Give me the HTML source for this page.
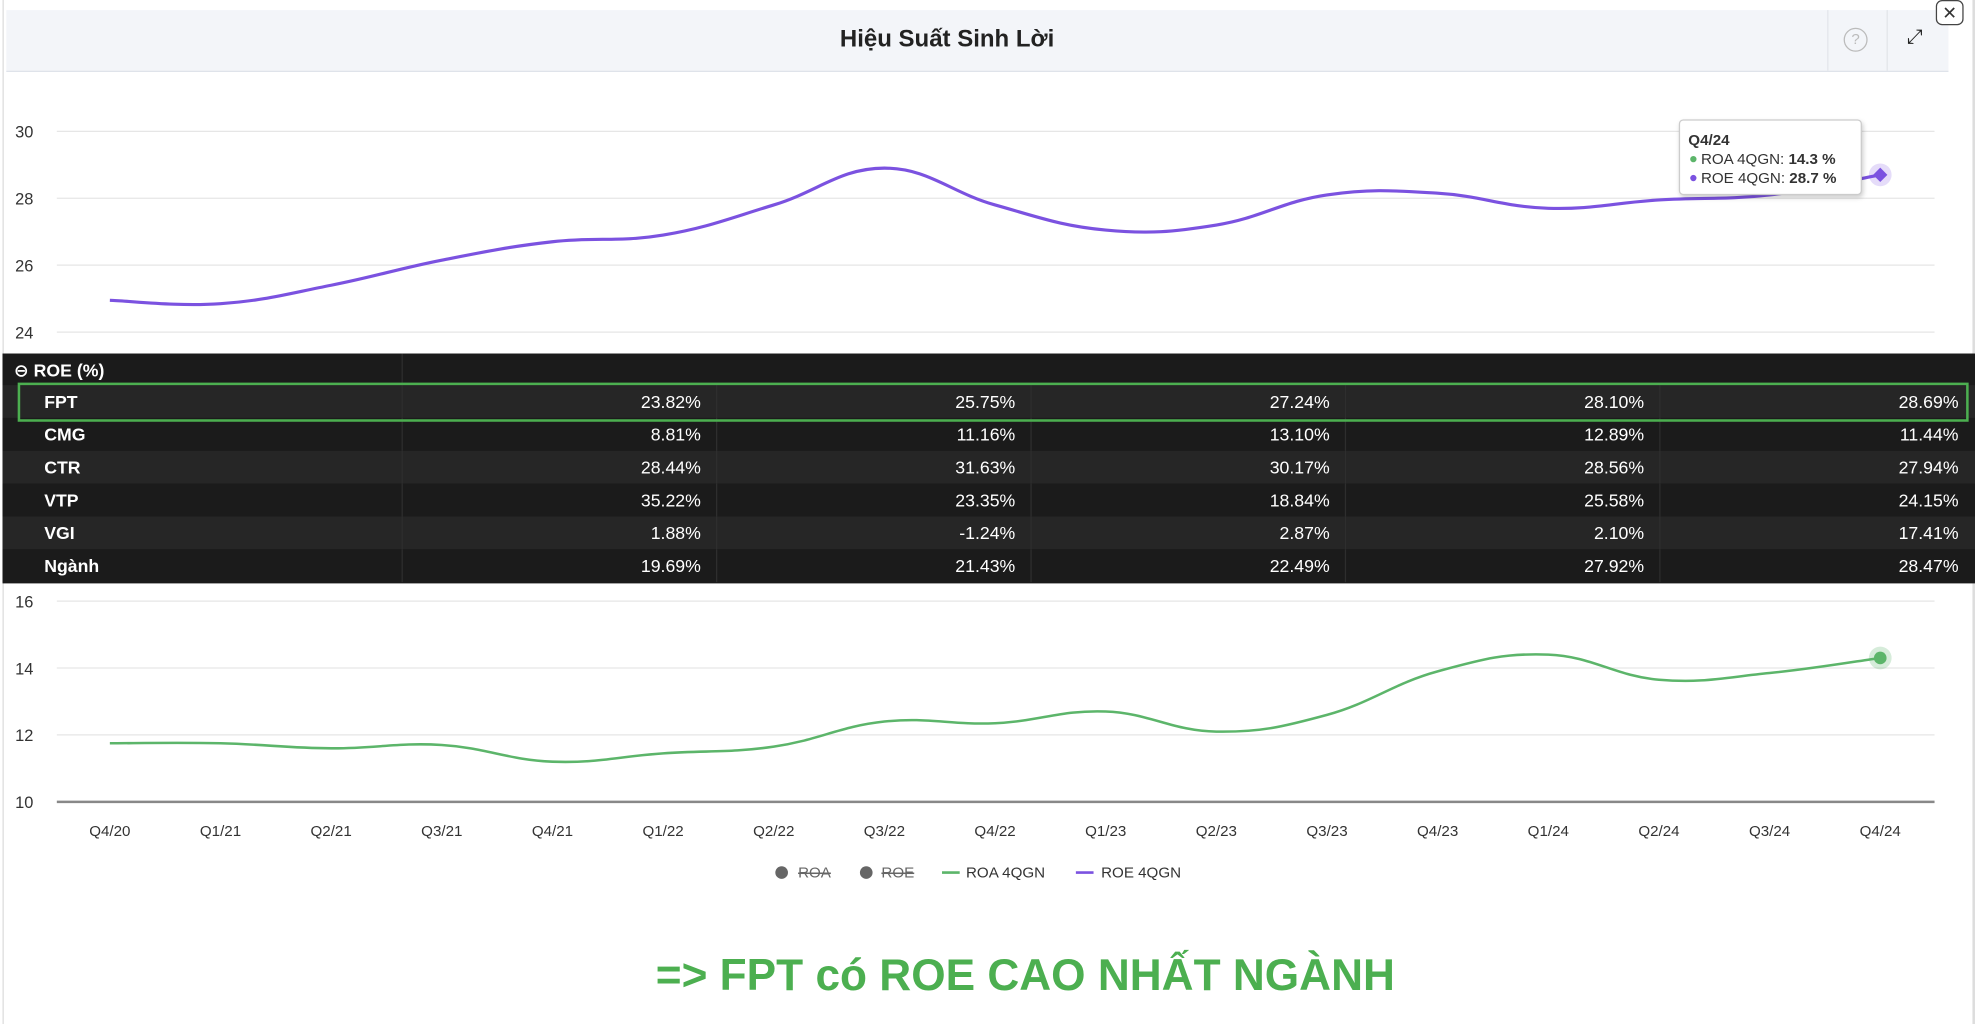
<!DOCTYPE html>
<html><head><meta charset="utf-8"><style>
html,body{margin:0;padding:0;background:#fff;width:1980px;height:1024px;overflow:hidden}
#wrap{position:absolute;left:0;top:0;width:1568px;height:811px;transform:scale(1.26276);transform-origin:0 0;font-family:"Liberation Sans","DejaVu Sans",sans-serif}
.abs{position:absolute}
#table{position:absolute;left:2px;top:280px;width:1562px;height:182px;background:#1b1b1b}
.row{position:absolute;left:0;width:1562px;height:26px;color:#fff;font-size:14px}
.row .n{position:absolute;left:33px;top:5px;font-weight:bold}
.row .v{position:absolute;top:5px;text-align:right;width:200px}
.sep{position:absolute;top:0;width:1px;height:26px;background:#2e2e2e}
</style></head><body>
<div id="wrap">
<div class="abs" style="left:2px;top:0;width:1562px;height:811px;border-left:1px solid #ddd;border-right:2px solid #ddd;box-sizing:border-box"></div>
<div class="abs" style="left:5px;top:8px;width:1538px;height:48px;background:#f3f5f9;border-bottom:1px solid #dfe3ea"></div>
<div class="abs" style="left:500px;width:500px;top:21px;text-align:center;font-size:19px;font-weight:bold;color:#222">Hiệu Suất Sinh Lời</div>
<div class="abs" style="left:1447px;top:8px;width:1px;height:48px;background:#e2e5ea"></div>
<div class="abs" style="left:1494px;top:8px;width:1px;height:48px;background:#e2e5ea"></div>
<div class="abs" style="left:1460px;top:22px;width:17px;height:17px;border:1.5px solid #bbb;border-radius:50%;color:#bbb;font-size:12px;text-align:center;line-height:17px">?</div>
<div class="abs" style="left:1510px;top:21px;font-size:16px;color:#222">⤢</div>
<div class="abs" style="left:1533px;top:0;width:20px;height:18px;border:1.5px solid #444;border-radius:5px;text-align:center;font-size:14px;line-height:18px;color:#333;background:#fff">✕</div>

<svg class="abs" style="left:0;top:0" width="1568" height="811" id="svg"></svg>

<div id="table"></div>

<div class="abs" style="left:300px;width:1024px;top:753px;text-align:center;font-size:35px;font-weight:bold;color:#4caf50">=&gt; FPT có ROE CAO NHẤT NGÀNH</div>
</div>
<script>
const categories=["Q4/20","Q1/21","Q2/21","Q3/21","Q4/21","Q1/22","Q2/22","Q3/22","Q4/22","Q1/23","Q2/23","Q3/23","Q4/23","Q1/24","Q2/24","Q3/24","Q4/24"];
const roe4q=[24.95,24.85,25.4,26.15,26.7,26.9,27.8,28.9,27.8,27.05,27.2,28.1,28.15,27.7,27.95,28.1,28.7];
const roa4q=[11.75,11.75,11.6,11.7,11.2,11.45,11.65,12.4,12.35,12.7,12.1,12.6,13.9,14.4,13.65,13.85,14.3];
const roeTicks=[24,26,28,30];
const roaTicks=[10,12,14,16];
const tableRows=["FPT","CMG","CTR","VTP","VGI","Ngành"];
const tableFPT=["23.82%","25.75%","27.24%","28.10%","28.69%"];
const tableCMG=["8.81%","11.16%","13.10%","12.89%","11.44%"];
const tableCTR=["28.44%","31.63%","30.17%","28.56%","27.94%"];
const tableVTP=["35.22%","23.35%","18.84%","25.58%","24.15%"];
const tableVGI=["1.88%","-1.24%","2.87%","2.10%","17.41%"];
const tableNganh=["19.69%","21.43%","22.49%","27.92%","28.47%"];

const NS="http://www.w3.org/2000/svg";
const svg=document.getElementById('svg');
function mk(t,a,p){const e=document.createElementNS(NS,t);for(const k in a)e.setAttribute(k,a[k]);(p||svg).appendChild(e);return e;}
const x=i=>87+i*(1489-87)/(categories.length-1);
const yTop=v=>263-(v-24)*(263-104)/6;
const yBot=v=>635-(v-10)*(635-476)/6;
function spline(pts){let d=`M${pts[0][0]},${pts[0][1]}`;for(let i=0;i<pts.length-1;i++){const p0=pts[i-1]||pts[i],p1=pts[i],p2=pts[i+1],p3=pts[i+2]||p2;const t=0.2;d+=` C${p1[0]+(p2[0]-p0[0])*t},${p1[1]+(p2[1]-p0[1])*t} ${p2[0]-(p3[0]-p1[0])*t},${p2[1]-(p3[1]-p1[1])*t} ${p2[0]},${p2[1]}`;}return d;}

roeTicks.forEach(v=>{let g=mk('line',{x1:45,x2:1532,y1:yTop(v),y2:yTop(v),stroke:'#e6e6e6'});
let t=mk('text',{x:12,y:yTop(v)+5,'font-size':13,fill:'#333'});t.textContent=v;});
roaTicks.forEach(v=>{let g=mk('line',{x1:45,x2:1532,y1:yBot(v),y2:yBot(v),stroke:v===10?'#888':'#e6e6e6','stroke-width':v===10?2:1});
let t=mk('text',{x:12,y:yBot(v)+5,'font-size':13,fill:'#333'});t.textContent=v;});
categories.forEach((c,i)=>{let t=mk('text',{x:x(i),y:662,'font-size':12,fill:'#333','text-anchor':'middle'});t.textContent=c;});

let roeLine=mk('path',{d:spline(roe4q.map((v,i)=>[x(i),yTop(v)])),fill:'none',stroke:'#7b52e0','stroke-width':2.5});

let roaLine=mk('path',{d:spline(roa4q.map((v,i)=>[x(i),yBot(v)])),fill:'none',stroke:'#5cb56a','stroke-width':2});

const L=categories.length-1;
let h1=mk('circle',{cx:x(L),cy:yTop(roe4q[L]),r:9,fill:'#7b52e0','fill-opacity':0.2});
let dm=mk('rect',{x:x(L)-4,y:yTop(roe4q[L])-4,width:8,height:8,fill:'#7b52e0',transform:`rotate(45 ${x(L)} ${yTop(roe4q[L])})`});
let h2=mk('circle',{cx:x(L),cy:yBot(roa4q[L]),r:9,fill:'#5cb56a','fill-opacity':0.25});
let dm2=mk('circle',{cx:x(L),cy:yBot(roa4q[L]),r:5,fill:'#5cb56a'});

let tg=mk('g',{});
mk('rect',{x:1330,y:95,width:144,height:59,rx:3,fill:'#fff',stroke:'#ccc',style:'filter:drop-shadow(1px 2px 2px rgba(0,0,0,.2))'},tg);
let tt=mk('text',{x:1337,y:115,'font-size':12,'font-weight':'bold',fill:'#333'},tg);tt.textContent=categories[L];
mk('circle',{cx:1341,cy:126,r:2.5,fill:'#5cb56a'},tg);
let r1=mk('text',{x:1347,y:130,'font-size':12,fill:'#333'},tg);r1.innerHTML='ROA 4QGN: <tspan font-weight="bold">'+roa4q[L]+' %</tspan>';
mk('circle',{cx:1341,cy:141,r:2.5,fill:'#7b52e0'},tg);
let r2=mk('text',{x:1347,y:145,'font-size':12,fill:'#333'},tg);r2.innerHTML='ROE 4QGN: <tspan font-weight="bold">'+roe4q[L]+' %</tspan>';

function leg(name,sym,sx,tx,color,txt,strike){let g=mk('g',{});
if(sym==='c')mk('circle',{cx:sx,cy:691,r:5,fill:'#666'},g);else mk('line',{x1:sx,x2:sx+14,y1:691,y2:691,stroke:color,'stroke-width':2},g);
let t=mk('text',{x:tx,y:695,'font-size':12,fill:strike?'#666':'#333','text-decoration':strike?'line-through':'none'},g);t.textContent=txt;}
leg('legend-roa','c',619,632,'#666','ROA',true);
leg('legend-roe','c',686,698,'#666','ROE',true);
leg('legend-roa-4qgn','l',746,765,'#5cb56a','ROA 4QGN',false);
leg('legend-roe-4qgn','l',852,872,'#7b52e0','ROE 4QGN',false);

const tb=document.getElementById('table');
const colR=[553,802,1051,1300,1549];
const seps=[316,565,814,1063,1312];
let hd=document.createElement('div');hd.className='row';hd.style.top='0px';hd.style.background='#1b1b1b';
hd.innerHTML='<span style="position:absolute;left:9px;top:5px;font-weight:bold">⊖ ROE (%)</span><div class="sep" style="left:316px"></div>';
tb.appendChild(hd);
const vals=[tableFPT,tableCMG,tableCTR,tableVTP,tableVGI,tableNganh];
tableRows.forEach((n,r)=>{const d=document.createElement('div');d.className='row';d.style.top=(25+r*26)+'px';d.style.background=r%2===0?'#262626':'#1b1b1b';
let h='<span class="n">'+n+'</span>';seps.forEach(s=>h+='<div class="sep" style="left:'+s+'px"></div>');
vals[r].forEach((v,c)=>h+='<span class="v" style="left:'+(colR[c]-200)+'px">'+v+'</span>');d.innerHTML=h;
tb.appendChild(d);});
const hb=document.createElement('div');hb.style.cssText='position:absolute;left:12px;top:23px;width:1541px;height:27px;border:2px solid #4caf50';
tb.appendChild(hb);
</script>
</body></html>
